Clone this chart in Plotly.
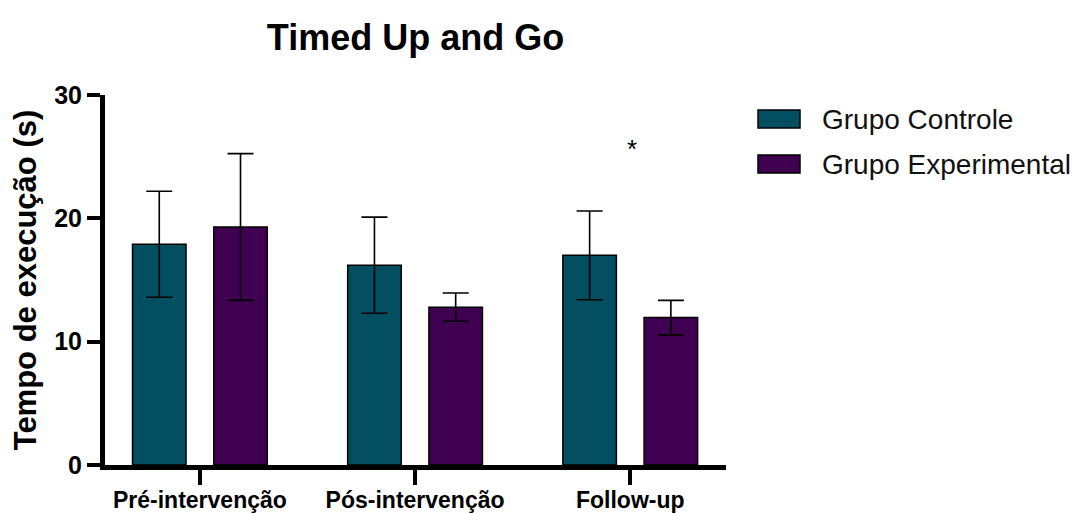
import plotly.graph_objects as go

categories = ["Pré-intervenção", "Pós-intervenção", "Follow-up"]
series_names = ["Grupo Controle", "Grupo Experimental"]
controle_mean = [17.9, 16.2, 17.0]
controle_err = [4.3, 3.9, 3.6]
experimental_mean = [19.3, 12.8, 11.95]
experimental_err = [5.95, 1.15, 1.4]
significance_category = "Follow-up"
significance_y = 25.6
significance_label = "*"
y_ticks = [0, 10, 20, 30]

colors = ["#034E61", "#400052"]
FONT = "Liberation Sans, Arial, sans-serif"

# page body has an 8px default margin -> figure drawn 8px in from top-left
OFF = 8
W, H = 1092 - OFF, 513 - OFF
L, T = 105 - OFF, 95 - OFF
R = W - (726 - OFF)
B = H - (465 - OFF)
PW, PH = W - L - R, H - T - B


def px_x(x):
    return (x - OFF - L) / PW


def px_y(y):
    return 1 - (y - OFF - T) / PH


fig = go.Figure()
for name, means, errs, col in zip(series_names,
                                  [controle_mean, experimental_mean],
                                  [controle_err, experimental_err], colors):
    fig.add_trace(go.Bar(
        x=categories, y=means, name=name,
        marker=dict(color=col, line=dict(color="black", width=1.5)),
        error_y=dict(type="data", array=errs, visible=True, color="black",
                     thickness=1.6, width=13),
        showlegend=False,
    ))

fig.add_annotation(x=significance_category, y=significance_y, text=significance_label,
                   showarrow=False, xshift=2,
                   font=dict(family=FONT, size=26, color="black"))

# manual legend (large swatches)
legend_rows = [(0.0, colors[0], series_names[0]), (45.0, colors[1], series_names[1])]
for dy, col, name in legend_rows:
    fig.add_shape(type="rect", xref="paper", yref="paper",
                  x0=px_x(758), x1=px_x(800),
                  y0=px_y(128 + dy), y1=px_y(110 + dy),
                  fillcolor=col, line=dict(color="black", width=1.5))
    fig.add_annotation(xref="paper", yref="paper",
                       x=px_x(820), y=px_y(119 + dy),
                       text=name, showarrow=False, xanchor="left", yanchor="middle",
                       font=dict(family=FONT, size=28, color="#111111"))

fig.update_layout(
    width=W, height=H,
    margin=dict(l=L, r=R, t=T, b=B, autoexpand=False),
    paper_bgcolor="white", plot_bgcolor="white",
    barmode="group", bargap=0.245, bargroupgap=0.341,
    showlegend=False,
    title=dict(text="Timed Up and Go", x=0.5, xref="paper", y=1 - (37 - OFF) / H,
               yref="container", xanchor="center", yanchor="middle", automargin=False,
               font=dict(family=FONT, size=36, color="black", weight="bold")),
    xaxis=dict(range=[-0.441, 2.445], showline=True, linecolor="black", linewidth=5,
               ticks="outside", ticklen=15, tickwidth=4, tickcolor="black",
               ticklabelstandoff=-5,
               tickfont=dict(family=FONT, size=23, color="black", weight="bold"),
               showgrid=False, zeroline=False, fixedrange=True, automargin=False),
    yaxis=dict(range=[0, 30], tickvals=y_ticks, showline=True, linecolor="black",
               linewidth=5, ticks="outside", ticklen=13, tickwidth=4, tickcolor="black",
               tickfont=dict(family=FONT, size=25, color="black", weight="bold"),
               title=dict(text="Tempo de execução (s)", standoff=12,
                          font=dict(family=FONT, size=31, color="black", weight="bold")),
               showgrid=False, zeroline=False, fixedrange=True, automargin=False),
)

fig.write_html("out.html")
